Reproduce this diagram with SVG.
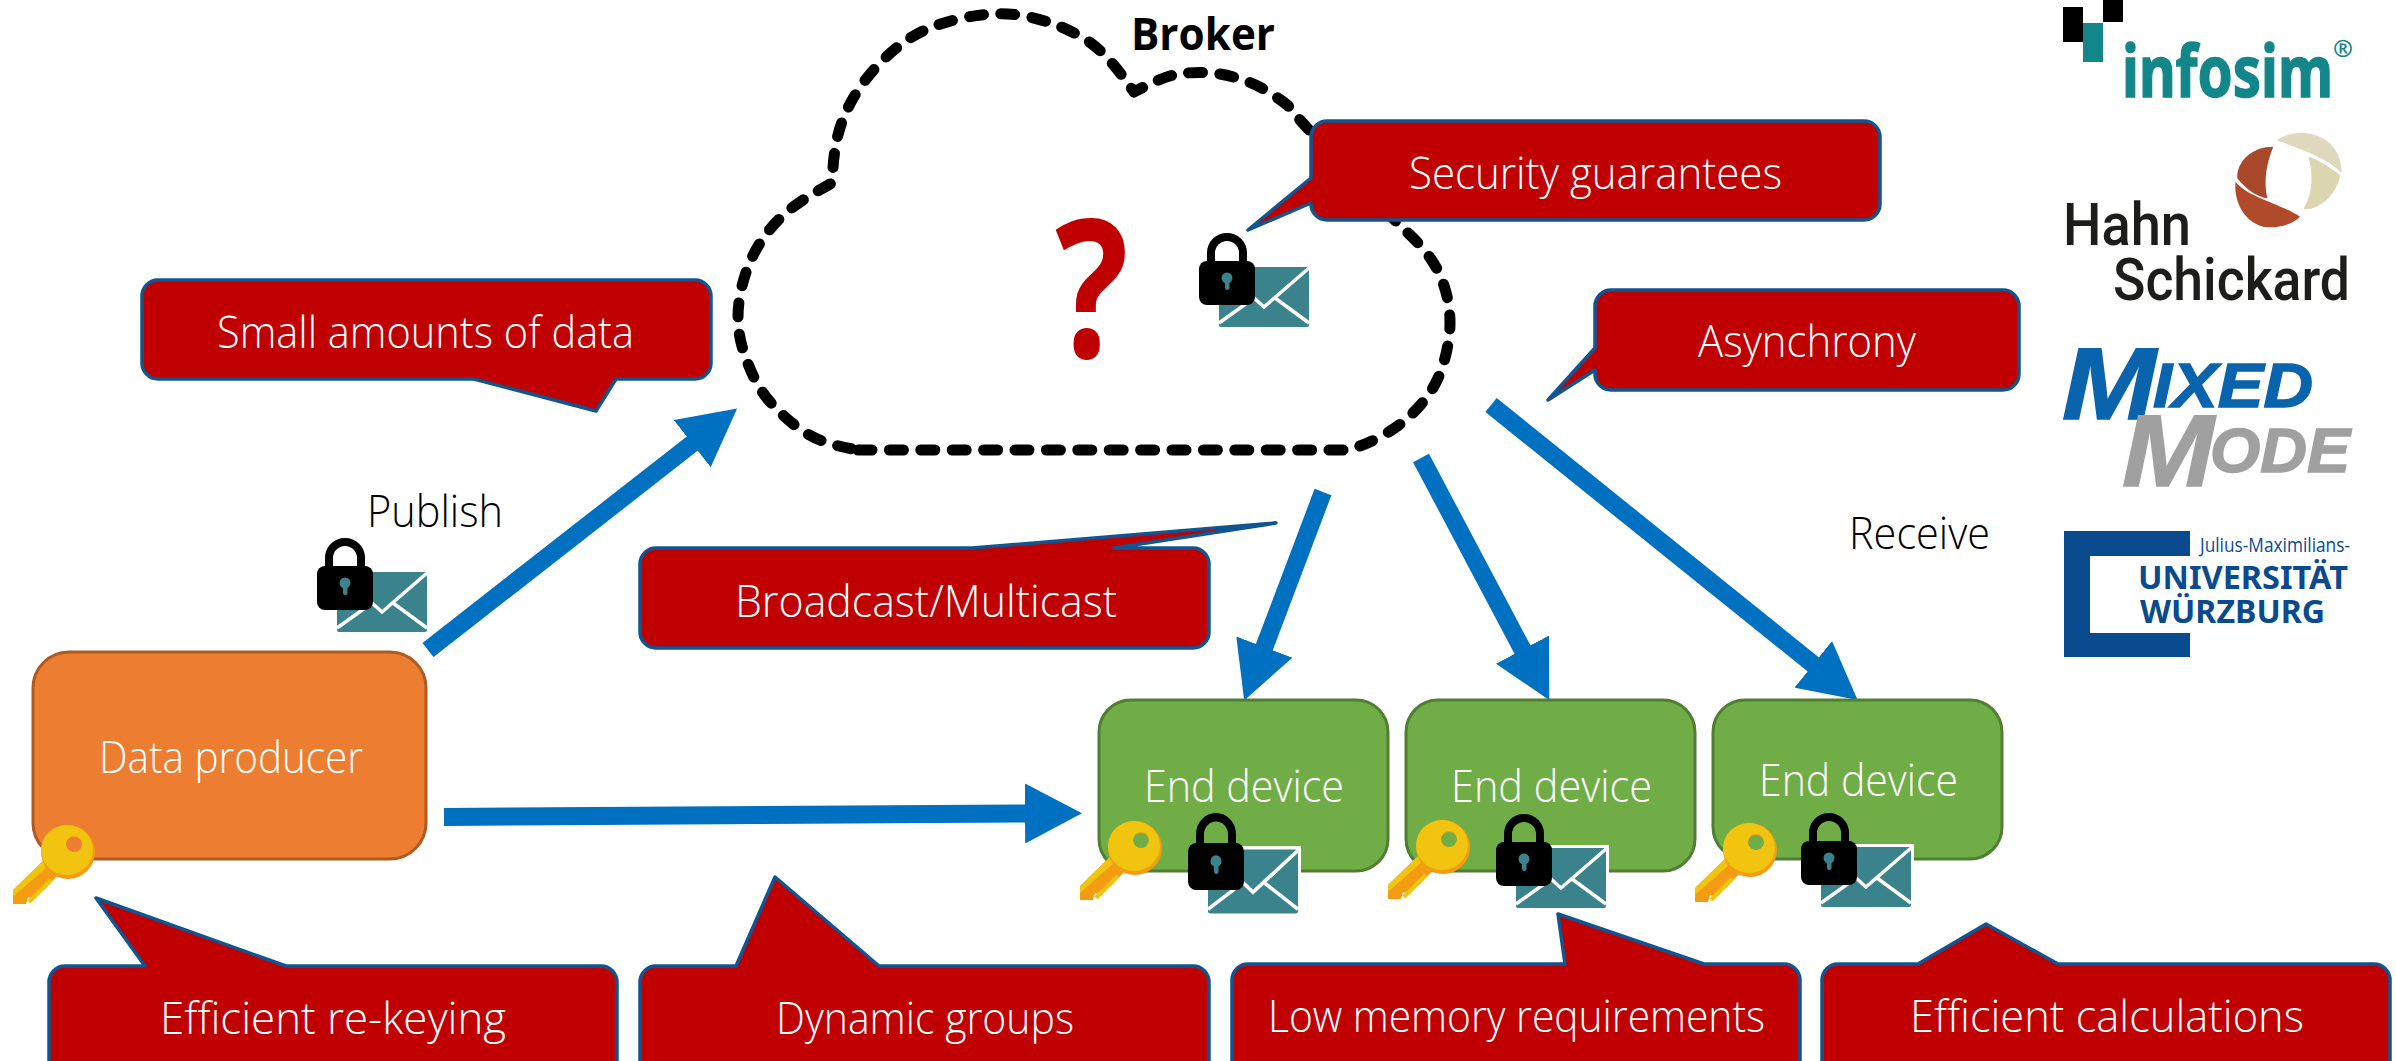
<svg xmlns="http://www.w3.org/2000/svg" width="2396" height="1061" viewBox="0 0 2396 1061">
<style>
text{font-family:"Open Sans","Liberation Sans",sans-serif;font-size:44px;font-weight:300}
.w{fill:#fff}.k{fill:#000}
.call{fill:#C00000;stroke:#10558F;stroke-width:3.5;stroke-linejoin:round}
.conn{fill:none;stroke:#0070C0;stroke-width:18}
.dev{fill:#70AD47;stroke:#507E32;stroke-width:3}
text.logo{font-family:"Noto Sans","Liberation Sans",sans-serif;font-weight:bold}
text.mm{font-family:"Liberation Sans",sans-serif;font-weight:bold;font-style:italic;stroke-width:1.500}
text.hs{font-family:Roboto,"Liberation Sans",sans-serif;font-size:60px;font-weight:500;fill:#1D1D1B}
</style>
<defs>
<marker id="head" markerUnits="userSpaceOnUse" markerWidth="58" markerHeight="60" refX="1" refY="30" orient="auto"><path d="M0,0L57,30L0,60Z" fill="#0070C0"/></marker>
<g id="sealed">
<rect x="17" y="31" width="96" height="66" fill="#fff"/>
<rect x="20" y="34" width="90" height="60" rx="2" fill="#3A828C"/>
<path d="M20,90L55,65L65,74L110,35M76,65L110,90" fill="none" stroke="#fff" stroke-width="3.500"/>
<path d="M12,30V20a16,16 0 0 1 32,0V30" fill="none" stroke="#000" stroke-width="8"/>
<rect x="0" y="28" width="56" height="44" rx="8" fill="#000"/>
<circle cx="28" cy="45" r="5.500" fill="#3A828C"/><rect x="26" y="45" width="4.500" height="12" rx="2" fill="#3A828C"/>
</g>
<g id="key">
<path d="M31,36L0,66V80H13L15,73L22,75L25,68L31,66L46,50Z" fill="#F39C12"/>
<path d="M31,36L0,66V73L35,42Z" fill="#F1C40F"/>
<path d="M16,78L38,56" stroke="#F1C40F" stroke-width="4" fill="none"/>
<path d="M28,28a27,27 0 1 0 54,0a27,27 0 1 0 -54,0ZM53,21a8,8 0 1 1 16,0a8,8 0 1 1 -16,0Z" fill="#F39C12" fill-rule="evenodd"/>
<path d="M28,26a26,25 0 1 0 52,0a26,25 0 1 0 -52,0ZM53,20a8,8 0 1 1 16,0a8,8 0 1 1 -16,0Z" fill="#F1C40F" fill-rule="evenodd"/>
</g>
</defs>
<rect width="2396" height="1061" fill="#fff"/>

<g id="broker">
<path d="M858,450H1345Q1358,448 1376,439Q1394,430 1406.500,419Q1419,408 1428,395.500Q1437,383 1442,368Q1447,353 1449,338Q1451,323 1449,307.500Q1447,292 1441,277.500Q1435,263 1424.500,250.500Q1414,238 1405,230.500L1350,175L1300,120Q1294,110 1284,102.500Q1274,95 1262.500,88.500Q1251,82 1235.500,77.500Q1220,73 1205,72.500Q1190,72 1176,74.500Q1162,77 1134,92L1125,79.500Q1116,67 1104.500,55Q1093,43 1079,35.500Q1065,28 1051,23Q1037,18 1021.500,15.500Q1006,13 991,14Q976,15 960.500,18.500Q945,22 931,27.500Q917,33 905,41.500Q893,50 882,61Q871,72 862,84.500Q853,97 846.500,111Q840,125 837,139Q834,153 833,168L832,183L817,191.500Q802,200 790.500,209Q779,218 769,230.500Q759,243 752.500,256.500Q746,270 742,286Q738,302 738,317.500Q738,333 742.500,348Q747,363 754,377.500Q761,392 771.500,403.500Q782,415 794.500,425Q807,435 821,440.500Q835,446 858,450Z" fill="none" stroke="#000" stroke-width="11" stroke-linecap="round" stroke-linejoin="round" stroke-dasharray="14 17.400"/>
<text x="1131" y="50" style="font-weight:bold" textLength="144" lengthAdjust="spacingAndGlyphs" class="k">Broker</text>
<text transform="translate(1092,357) scale(.8,1)" text-anchor="middle" fill="#C00000" style="font-weight:bold;font-size:192px">?</text>
<use href="#sealed" x="1199" y="233"/>
</g>

<g id="connectors">
<path class="conn" d="M428,650L693,443" marker-end="url(#head)"/>
<path class="conn" d="M444,817L1026,813.500" marker-end="url(#head)"/>
<path class="conn" d="M1323,492L1264,648" marker-end="url(#head)"/>
<path class="conn" d="M1421,458L1523,650.500" marker-end="url(#head)"/>
<path class="conn" d="M1491,405L1814,665" marker-end="url(#head)"/>
</g>

<g id="data-producer">
<rect x="33" y="652" width="393" height="207" rx="36" fill="#ED7D31" stroke="#AE5A21" stroke-width="3"/>
<text x="99" y="773" textLength="264" lengthAdjust="spacingAndGlyphs" class="w">Data producer</text>
<use href="#key" x="13" y="824"/>
</g>
<g id="publish-label">
<text x="367" y="527" textLength="136" lengthAdjust="spacingAndGlyphs" class="k">Publish</text>
<use href="#sealed" x="317" y="538"/>
</g>
<g id="end-device-1">
<rect class="dev" x="1099" y="700" width="289" height="171" rx="32"/>
<text x="1144" y="802" textLength="200" lengthAdjust="spacingAndGlyphs" class="w">End device</text>
<use href="#key" x="1080" y="820"/>
<use href="#sealed" transform="translate(1188,813) scale(1,1.070)"/>
</g>
<g id="end-device-2">
<rect class="dev" x="1406" y="700" width="289" height="171" rx="32"/>
<text x="1451" y="802" textLength="201" lengthAdjust="spacingAndGlyphs" class="w">End device</text>
<use href="#key" x="1388" y="819"/>
<use href="#sealed" x="1496" y="814"/>
</g>
<g id="end-device-3">
<rect class="dev" x="1713" y="700" width="289" height="159" rx="32"/>
<text x="1759" y="796" textLength="199" lengthAdjust="spacingAndGlyphs" class="w">End device</text>
<use href="#key" x="1695" y="822"/>
<use href="#sealed" x="1801" y="813"/>
</g>
<g id="receive-label"><text x="1849" y="549" textLength="141" lengthAdjust="spacingAndGlyphs" class="k">Receive</text></g>

<g id="callout-small">
<path class="call" d="M158,280H695a16,16 0 0 1 16,16V363a16,16 0 0 1 -16,16H616L596,411L474,379H158a16,16 0 0 1 -16,-16V296a16,16 0 0 1 16,-16Z"/>
<text x="217" y="348" textLength="417" lengthAdjust="spacingAndGlyphs" class="w">Small amounts of data</text>
</g>
<g id="callout-security">
<path class="call" d="M1327,121H1864a16,16 0 0 1 16,16V204a16,16 0 0 1 -16,16H1327a16,16 0 0 1 -16,-16V203L1248,230L1311,178V137a16,16 0 0 1 16,-16Z"/>
<text x="1409" y="189" textLength="373" lengthAdjust="spacingAndGlyphs" class="w">Security guarantees</text>
</g>
<g id="callout-asynchrony">
<path class="call" d="M1611,290H2003a16,16 0 0 1 16,16V374a16,16 0 0 1 -16,16H1611a16,16 0 0 1 -16,-16V370L1548,400L1595,348V306a16,16 0 0 1 16,-16Z"/>
<text x="1698" y="357" textLength="218" lengthAdjust="spacingAndGlyphs" class="w">Asynchrony</text>
</g>
<g id="callout-broadcast">
<path class="call" d="M656,548H972L1276,523L1114,548H1193a16,16 0 0 1 16,16V632a16,16 0 0 1 -16,16H656a16,16 0 0 1 -16,-16V564a16,16 0 0 1 16,-16Z"/>
<text x="735" y="617" textLength="382" lengthAdjust="spacingAndGlyphs" class="w">Broadcast/Multicast</text>
</g>
<g id="callout-rekeying">
<path class="call" d="M65,966H145L96,898L286,966H601a16,16 0 0 1 16,16V1080H49V982a16,16 0 0 1 16,-16Z"/>
<text x="160" y="1034" textLength="346" lengthAdjust="spacingAndGlyphs" class="w">Efficient re-keying</text>
</g>
<g id="callout-dynamic">
<path class="call" d="M656,966H736L775,877L879,966H1193a16,16 0 0 1 16,16V1080H640V982a16,16 0 0 1 16,-16Z"/>
<text x="776" y="1034" textLength="298" lengthAdjust="spacingAndGlyphs" class="w">Dynamic groups</text>
</g>
<g id="callout-memory">
<path class="call" d="M1248,964H1565L1558,914L1704,964H1784a16,16 0 0 1 16,16V1080H1232V980a16,16 0 0 1 16,-16Z"/>
<text x="1268" y="1032" textLength="497" lengthAdjust="spacingAndGlyphs" class="w">Low memory requirements</text>
</g>
<g id="callout-calculations">
<path class="call" d="M1838,964H1918L1986,924L2058,964H2374a16,16 0 0 1 16,16V1080H1822V980a16,16 0 0 1 16,-16Z"/>
<text x="1910" y="1032" textLength="394" lengthAdjust="spacingAndGlyphs" class="w">Efficient calculations</text>
</g>

<g id="logo-infosim">
<rect x="2063" y="7" width="20" height="35" fill="#000"/>
<rect x="2103" y="0" width="20" height="22" fill="#000"/>
<rect x="2083" y="23" width="20" height="39" fill="#13868A"/>
<text class="logo" x="2122" y="97" textLength="211" lengthAdjust="spacingAndGlyphs" fill="#13868A" style="font-size:72px;stroke:#13868A;stroke-width:1.500">infosim</text>
<text class="logo" x="2333" y="57" fill="#13868A" style="font-size:24px">®</text>
</g>
<g id="logo-hahn-schickard">
<g transform="translate(1980,0) scale(.3333)">
<path d="M890,420C960,375 1085,400 1085,520C1040,470 960,450 890,420Z" fill="#E0D8BE"/>
<path d="M985,470C1020,480 1060,510 1080,525C1075,570 1030,630 970,628C1000,580 1000,520 985,470Z" fill="#DBD5B0"/>
<path d="M880,440C820,440 770,480 772,535C800,570 830,590 862,595C850,540 860,490 880,440Z" fill="#A9482A"/>
<path d="M767,545C800,590 900,610 960,650C930,680 880,685 850,680C790,665 760,600 767,545Z" fill="#B04A2A"/>
</g>
<text class="hs" x="2063" y="245" textLength="128" lengthAdjust="spacingAndGlyphs">Hahn</text>
<text class="hs" x="2113" y="300" textLength="237" lengthAdjust="spacingAndGlyphs">Schickard</text>
</g>
<g id="logo-mixedmode">
<text class="mm" x="2062" y="419" textLength="94" lengthAdjust="spacingAndGlyphs" fill="#0A64AD" stroke="#0A64AD" style="font-size:102px">M</text>
<text class="mm" x="2153" y="407" textLength="160" lengthAdjust="spacingAndGlyphs" fill="#0A64AD" stroke="#0A64AD" style="font-size:63px">IXED</text>
<text class="mm" x="2122" y="486" textLength="92" lengthAdjust="spacingAndGlyphs" fill="#A0A0A0" stroke="#A0A0A0" style="font-size:102px">M</text>
<text class="mm" x="2210" y="472" textLength="140" lengthAdjust="spacingAndGlyphs" fill="#A0A0A0" stroke="#A0A0A0" style="font-size:63px">ODE</text>
</g>
<g id="logo-wuerzburg">
<path d="M2064,531H2190V556H2090V633H2190V657H2064Z" fill="#0A4A8F"/>
<text x="2200" y="552" textLength="150" lengthAdjust="spacingAndGlyphs" fill="#0A4A8F" style="font-size:20px;font-weight:400">Julius-Maximilians-</text>
<text class="logo" x="2138" y="589" textLength="210" lengthAdjust="spacingAndGlyphs" fill="#0A4A8F" style="font-size:32px">UNIVERSITÄT</text>
<text class="logo" x="2140" y="623" textLength="185" lengthAdjust="spacingAndGlyphs" fill="#0A4A8F" style="font-size:32px">WÜRZBURG</text>
</g>
</svg>
